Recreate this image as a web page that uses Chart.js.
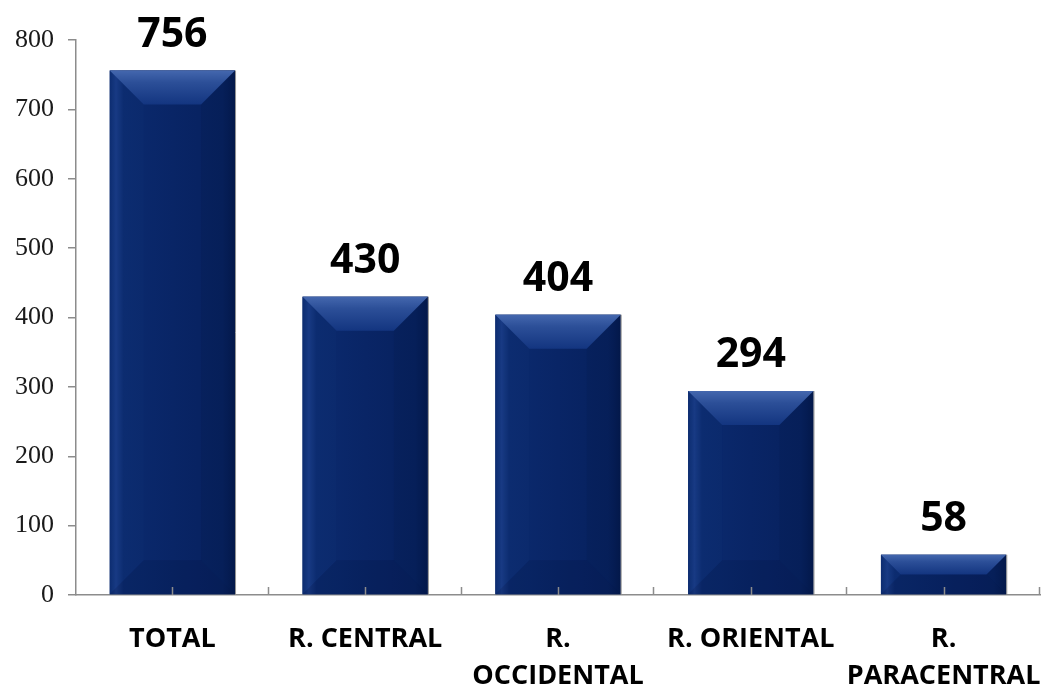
<!DOCTYPE html>
<html>
<head>
<meta charset="utf-8">
<script src="https://cdn.jsdelivr.net/npm/chart.js@4"></script>
<style>
  html, body { margin: 0; padding: 0; background: #fff; }
  #wrap { width: 1043px; height: 686px; position: relative; }
</style>
</head>
<body>
<div id="wrap"><canvas id="grafico"></canvas></div>
<script>
// datos de la grafica
const categorias = ["TOTAL", "R. CENTRAL", ["R.", "OCCIDENTAL"], "R. ORIENTAL", ["R.", "PARACENTRAL"]];
const valores = [756, 430, 404, 294, 58];
const ejeY = { min: 0, max: 800, paso: 100 };

// bisel de las barras (solo estilo, usa la geometria de cada barra)
const biselPlugin = {
  id: "bisel",
  afterDatasetsDraw(chart) {
    const ctx = chart.ctx;
    chart.getDatasetMeta(0).data.forEach((bar) => {
      const w = bar.width, l = bar.x - w / 2, r = bar.x + w / 2;
      const t = bar.y, b = bar.base, h = b - t;
      const s = Math.min(34, h / 2, w / 2);
      ctx.save();
      // cuerpo con leve degradado horizontal
      let g = ctx.createLinearGradient(l, 0, r, 0);
      g.addColorStop(0, "#0b2a6e");
      g.addColorStop(0.05, "#183983");
      g.addColorStop(0.11, "#0b2a6e");
      g.addColorStop(0.5, "#092566");
      g.addColorStop(0.9, "#07215e");
      g.addColorStop(1, "#041a4e");
      ctx.fillStyle = g;
      ctx.fillRect(l, t, w, h);
      // superior
      g = ctx.createLinearGradient(0, t, 0, t + s);
      g.addColorStop(0, "#4467ae");
      g.addColorStop(0.35, "#2c4f98");
      g.addColorStop(1, "#133580");
      ctx.fillStyle = g;
      ctx.beginPath();
      ctx.moveTo(l, t); ctx.lineTo(r, t); ctx.lineTo(r - s, t + s); ctx.lineTo(l + s, t + s); ctx.closePath();
      ctx.fill();
      // izquierda
      ctx.fillStyle = "rgba(40,80,160,0.06)";
      ctx.beginPath();
      ctx.moveTo(l, t); ctx.lineTo(l + s, t + s); ctx.lineTo(l + s, b - s); ctx.lineTo(l, b); ctx.closePath();
      ctx.fill();
      // derecha
      ctx.fillStyle = "rgba(0,10,40,0.08)";
      ctx.beginPath();
      ctx.moveTo(r, t); ctx.lineTo(r - s, t + s); ctx.lineTo(r - s, b - s); ctx.lineTo(r, b); ctx.closePath();
      ctx.fill();
      // inferior
      ctx.fillStyle = "rgba(0,10,40,0.12)";
      ctx.beginPath();
      ctx.moveTo(l, b); ctx.lineTo(r, b); ctx.lineTo(r - s, b - s); ctx.lineTo(l + s, b - s); ctx.closePath();
      ctx.fill();
      // borde derecho gris
      ctx.strokeStyle = "#8f8f8f";
      ctx.lineWidth = 1;
      ctx.beginPath();
      ctx.moveTo(r + 0.5, t); ctx.lineTo(r + 0.5, b);
      ctx.stroke();
      ctx.restore();
    });
  }
};

// marcas del eje X (centros y limites de categoria, hacia arriba)
const marcasPlugin = {
  id: "marcas",
  afterDraw(chart) {
    const ctx = chart.ctx, x = chart.scales.x, y0 = chart.scales.y.getPixelForValue(0);
    const n = valores.length, paso = (x.right - x.left) / n;
    ctx.save();
    ctx.strokeStyle = "#8c8c8c";
    ctx.lineWidth = 1.5;
    ctx.beginPath();
    for (let i = 0; i < n; i++) {
      const c = Math.round(x.getPixelForValue(i)) + 0.5;
      ctx.moveTo(c, y0); ctx.lineTo(c, y0 - 8);
      const e = Math.round(x.left + paso * (i + 1)) - 0.5;
      ctx.moveTo(e, y0); ctx.lineTo(e, y0 - 8);
    }
    ctx.stroke();
    ctx.restore();
  }
};

// etiquetas de valor sobre las barras
const etiquetasPlugin = {
  id: "etiquetas",
  afterDatasetsDraw(chart) {
    const ctx = chart.ctx;
    ctx.save();
    ctx.font = "bold 41px 'Open Sans'";
    ctx.fillStyle = "#000";
    ctx.textAlign = "center";
    ctx.textBaseline = "alphabetic";
    chart.getDatasetMeta(0).data.forEach((bar, i) => {
      ctx.fillText(String(valores[i]), bar.x, bar.y - 24);
    });
    ctx.restore();
  }
};

new Chart(document.getElementById("grafico"), {
  type: "bar",
  data: {
    labels: categorias,
    datasets: [{
      data: valores,
      backgroundColor: "#0a2566",
      categoryPercentage: 1,
      barPercentage: 0.65
    }]
  },
  options: {
    responsive: true,
    maintainAspectRatio: false,
    animation: false,
    layout: { padding: { top: 40, right: 3, left: 0, bottom: 0 } },
    plugins: { legend: { display: false }, tooltip: { enabled: false } },
    scales: {
      x: {
        grid: { display: false },
        border: { display: true, color: "#8c8c8c", width: 1.5 },
        ticks: {
          color: "#000",
          font: { family: "'Open Sans'", size: 27, weight: "bold", lineHeight: 1.4 },
          padding: 17,
          maxRotation: 0,
          autoSkip: false
        },
        afterFit(s) { s.height = 91; s.paddingLeft = 0; s.paddingRight = 0; }
      },
      y: {
        min: ejeY.min,
        max: ejeY.max,
        grid: { display: true, drawOnChartArea: false, drawTicks: true, tickLength: 8, color: "#8c8c8c", lineWidth: 1.5 },
        border: { display: true, color: "#8c8c8c", width: 1.5 },
        ticks: {
          stepSize: ejeY.paso,
          color: "#1a1a1a",
          font: { family: "'Liberation Serif'", size: 26 },
          padding: 14
        },
        afterFit(s) { s.width = 76; s.paddingTop = 0; s.paddingBottom = 0; }
      }
    }
  },
  plugins: [biselPlugin, marcasPlugin, etiquetasPlugin]
});
</script>
</body>
</html>
